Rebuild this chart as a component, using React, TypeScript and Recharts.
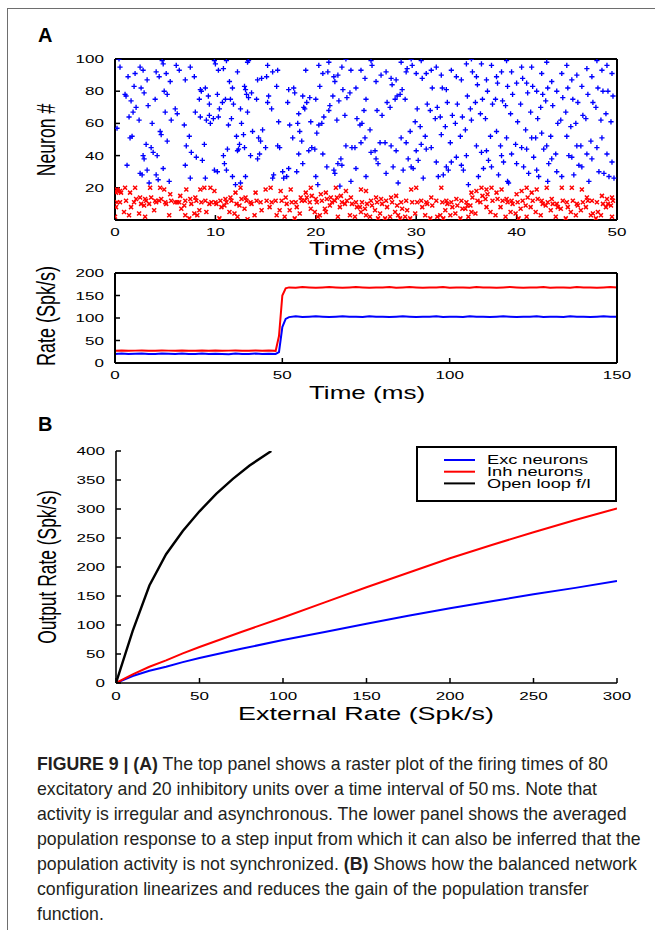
import React from 'react';
import { ScatterChart, Scatter, LineChart, Line, XAxis, YAxis, Legend } from 'recharts';

// ---------- data ----------
const excSpikes: [number, number][] = [
[0.2,57],[0.4,100],[0.5,95],[1.0,78],[1.1,77],[1.3,89],[1.4,64],[1.2,34],[1.6,74],[1.7,52],[1.5,51],[1.9,83],[2.0,91],[1.8,67],[2.1,70],
[2.5,95],[2.6,82],[2.4,62],[2.5,29],[2.7,28],[2.8,93],[2.9,79],[2.8,40],[2.9,38],[3.2,87],[3.3,71],[3.1,47],[3.2,31],[3.4,23],[3.7,60],[3.6,45],[3.8,42],
[4.1,92],[4.0,75],[4.2,40],[4.1,28],[4.3,25],[4.4,89],[4.5,55],[4.7,99],[4.8,97],[4.9,80],[4.6,53],[4.8,32],[5.1,91],[5.2,78],[5.0,67],[5.2,49],[5.5,86],[5.6,62],[5.4,24],
[6.1,96],[6.2,66],[6.0,69],[6.4,93],[7.0,87],[6.9,59],[7.1,46],[7.0,34],[7.5,95],[7.4,52],[7.6,42],[7.5,26],[8.0,67],[8.1,39],[7.9,89],
[8.5,81],[8.6,80],[8.4,75],[8.5,64],[8.7,37],[9.0,82],[9.1,62],[8.9,47],[9.0,26],[9.4,65],[9.5,60],[9.3,77],[9.4,72],[9.9,99],[10.0,97],[9.8,63],[9.9,31],
[10.3,93],[10.2,78],[10.4,69],[10.3,64],[10.2,30],[10.8,94],[10.7,73],[10.9,35],[10.8,40],[11.1,99],[11.0,75],[11.2,44],[11.1,31],[11.4,86],[11.5,75],[11.3,59],[11.7,82],[11.8,72],[11.6,63],[11.7,27],
[12.2,92],[12.1,52],[12.3,44],[12.2,43],[12.0,22],[12.5,69],[12.6,60],[12.4,47],[12.5,23],[12.9,83],[13.0,81],[12.8,53],[12.9,45],[13.0,27],[13.2,98],[13.3,99],[13.1,78],[13.3,76],[13.2,67],[13.6,79],[13.7,55],[13.5,40],
[14.2,87],[14.1,75],[14.3,51],[14.2,38],[14.4,41],[14.6,88],[14.7,56],[14.5,49],[15.2,96],[15.1,89],[15.3,77],[15.2,73],[15.0,45],[15.7,92],[15.6,69],[15.8,28],[15.7,26],
[16.2,93],[16.1,83],[16.3,61],[16.2,46],[16.4,45],[16.7,30],[16.8,26],[17.3,81],[17.2,73],[17.4,59],[17.3,32],[17.1,27],[17.8,82],[17.9,79],[17.7,51],
[18.3,66],[18.2,60],[18.4,55],[18.3,41],[18.1,30],[18.7,77],[18.8,70],[18.6,49],[18.7,35],[19.0,93],[19.1,73],[18.9,69],[19.4,76],[19.5,61],[19.3,43],[19.6,45],
[20.0,75],[20.1,54],[19.9,44],[20.0,27],[20.2,22],[20.3,96],[20.4,83],[20.3,59],[20.7,91],[20.8,64],[20.6,60],[20.7,41],[21.3,98],[21.2,92],[21.4,71],[21.3,68],[21.1,33],[21.8,89],[21.9,86],[21.7,77],[21.8,31],[21.9,29],
[22.2,90],[22.3,74],[22.1,62],[22.2,35],[22.4,21],[22.6,95],[22.7,81],[22.5,38],[22.6,34],[23.0,100],[23.1,76],[22.9,65],[23.0,46],[23.5,93],[23.4,79],[23.6,45],[23.5,24],
[24.0,82],[24.1,63],[23.9,45],[24.0,32],[24.5,93],[24.4,59],[24.6,60],[24.5,48],[24.9,88],[25.0,75],[24.8,68],[24.9,51],[25.0,27],[25.5,99],[25.6,96],[25.4,56],[25.5,42],
[26.0,86],[26.1,68],[25.9,43],[26.0,38],[26.2,35],[26.5,90],[26.6,65],[26.4,48],[27.0,92],[27.1,73],[26.9,48],[27.0,29],[27.5,88],[27.6,84],[27.4,70],[27.5,46],[27.7,33],
[28.0,87],[28.1,77],[27.9,75],[28.0,43],[28.2,23],[28.5,98],[28.6,81],[28.4,78],[28.5,51],[28.7,31],[29.0,92],[29.1,94],[28.9,75],[29.0,48],[29.2,38],[29.5,100],[29.6,96],[29.4,55],[29.5,33],[29.7,32],
[30.0,91],[30.1,69],[29.9,61],[30.0,43],[30.2,37],[30.5,99],[30.6,88],[30.4,58],[30.5,47],[30.7,26],[31.0,91],[31.1,72],[30.9,52],[31.0,44],[31.5,93],[31.6,82],[31.4,68],[31.5,45],
[32.0,95],[32.1,70],[31.9,63],[32.0,36],[32.2,27],[32.5,90],[32.6,82],[32.4,64],[32.5,53],[32.7,28],[33.0,81],[33.1,73],[32.9,58],[33.0,33],[33.2,31],[33.5,93],[33.6,65],[33.4,48],[33.5,36],
[34.0,89],[34.1,72],[33.9,60],[34.0,39],[34.5,87],[34.6,64],[34.4,52],[34.5,34],[34.7,31],[35.0,97],[35.1,77],[34.9,56],[35.0,40],[35.2,22],[35.5,100],[35.6,92],[35.4,69],[35.5,62],
[36.0,89],[36.1,84],[35.9,73],[36.0,46],[36.2,27],[36.5,97],[36.6,75],[36.4,66],[36.5,42],[36.7,32],[37.0,87],[37.1,80],[36.9,63],[37.0,43],[37.2,37],[37.5,96],[37.6,72],[37.4,52],[37.5,33],
[38.0,89],[38.1,85],[37.9,75],[38.0,55],[38.2,28],[38.5,92],[38.6,74],[38.4,46],[38.5,40],[38.7,36],[39.0,99],[39.1,83],[38.9,71],[39.0,51],[39.2,23],[39.1,24],[39.5,92],[39.6,78],[39.4,66],[39.5,41],
[40.0,85],[40.1,61],[39.9,47],[40.0,35],[40.5,95],[40.6,88],[40.4,72],[40.5,45],[40.7,33],[41.0,85],[41.1,79],[40.9,56],[41.0,44],[41.2,29],[41.5,95],[41.6,83],[41.4,67],[41.5,51],[41.7,39],
[42.0,80],[42.1,63],[41.9,51],[42.0,31],[42.2,27],[42.5,91],[42.6,78],[42.4,70],[42.5,54],[42.7,44],[43.0,98],[43.1,82],[42.9,74],[43.0,46],[43.2,35],[43.1,24],[43.5,86],[43.6,71],[43.4,52],[43.5,38],
[44.0,80],[44.1,60],[43.9,41],[44.0,30],[44.5,91],[44.6,76],[44.4,62],[44.5,27],[45.0,96],[45.1,82],[44.9,67],[45.0,52],[45.2,40],[45.5,87],[45.6,75],[45.4,58],[45.5,39],[45.7,28],
[46.0,90],[46.1,73],[45.9,60],[46.0,46],[46.2,34],[46.5,83],[46.6,65],[46.4,46],[46.5,33],[47.0,94],[47.1,78],[46.9,63],[47.0,41],[47.2,24],[47.5,89],[47.6,73],[47.4,49],[47.5,38],
[48.0,99],[48.1,82],[47.9,70],[48.0,45],[48.2,30],[48.5,93],[48.6,80],[48.4,62],[48.5,51],[48.7,29],[49.0,96],[49.1,80],[48.9,66],[49.0,41],[49.2,27],[49.5,91],[49.6,77],[49.4,61],[49.5,36],[49.7,26],
];

const inhSpikes: [number, number][] = [
[0.0,2],[0.1,8],[0.2,11],[0.1,17],[0.3,18],[0.2,19],[0.5,18],[0.6,17],[0.5,11],[1.0,20],[1.1,12],[0.9,5],[1.5,17],[1.6,8],[1.4,3],[2.0,20],[2.1,13],[1.9,11],[2.5,14],[2.6,10],[2.4,4],
[3.0,13],[3.1,12],[2.9,9],[3.0,2],[3.5,20],[3.6,14],[3.4,10],[4.0,12],[4.1,11],[3.9,6],[4.5,20],[4.6,13],[4.4,12],[5.0,11],[5.1,10],[4.9,19],[5.5,16],[5.6,12],[5.4,3],
[6.0,11],[6.2,11],[6.5,15],[6.6,7],[6.4,11],[7.0,12],[7.1,19],[6.9,9],[7.0,3],[7.5,13],[7.6,10],[7.4,1],[8.0,14],[8.1,12],[7.9,4],[8.2,3],[8.5,19],[8.6,11],[8.4,6],[9.0,12],[9.1,5],[8.9,20],[9.5,20],[9.6,11],[9.4,10],
[10.0,11],[10.1,10],[9.9,18],[10.5,12],[10.6,8],[10.4,1],[11.0,13],[11.1,11],[10.9,9],[11.5,14],[11.6,12],[11.4,5],[12.0,17],[12.1,10],[11.9,4],[12.2,2],[12.5,20],[12.6,13],[12.4,9],
[13.0,14],[13.1,12],[12.9,7],[13.2,0.5],[13.5,11],[13.6,10],[14.0,17],[14.1,12],[13.9,3],[14.5,11],[14.6,6],[15.0,19],[15.1,12],[15.5,20],[15.6,11],[15.4,8],[16.0,12],[16.1,3],[16.5,18],[16.6,12],[16.4,6],
[17.0,14],[17.1,10],[16.9,2],[17.5,19],[17.6,11],[17.4,6],[18.0,11],[18.1,8],[17.9,1],[18.5,14],[18.6,12],[18.4,4],[19.0,17],[19.1,14],[18.9,12],[19.5,20],[19.6,15],[19.4,11],[19.5,7],
[20.0,13],[20.1,11],[19.9,5],[20.2,2],[20.5,16],[20.6,12],[20.4,3],[21.0,17],[21.1,13],[20.9,7],[21.0,5],[21.5,14],[21.6,11],[21.4,9],[22.0,20],[22.1,14],[21.9,12],[22.2,2],[22.5,15],[22.6,11],[22.4,8],
[23.0,18],[23.1,12],[22.9,10],[23.5,14],[23.6,10],[23.4,3],[24.0,11],[24.1,8],[23.9,2],[24.5,19],[24.6,11],[24.4,8],[24.5,5],[25.0,18],[25.1,10],[24.9,7],[25.0,3],[25.5,12],[25.6,9],[25.4,2],
[26.0,14],[26.1,11],[25.9,6],[26.2,1],[26.5,13],[26.6,10],[26.4,4],[27.0,12],[27.1,8],[26.9,1],[27.5,14],[27.6,11],[27.4,2],[28.0,15],[28.1,9],[27.9,5],[28.2,3],[28.5,11],[28.6,7],[28.4,1],[29.0,12],[29.1,6],[28.9,2],[29.5,19],[29.6,11],[29.4,1],
[30.0,20],[30.1,11],[29.9,4],[30.5,12],[30.6,8],[31.0,11],[31.1,10],[30.9,3],[31.5,14],[31.6,9],[31.4,1],[32.0,12],[32.1,2],[32.5,20],[32.6,11],[32.4,3],[32.7,1],[33.0,12],[33.1,10],[32.9,6],[33.5,11],[33.6,8],[33.4,3],
[34.0,13],[34.1,9],[33.9,4],[34.5,12],[34.6,7],[34.4,1],[35.0,11],[35.1,9],[34.9,7],[35.2,2],[35.5,17],[35.6,14],[35.4,9],[35.5,5],[36.0,18],[36.1,12],[35.9,4],[36.5,20],[36.6,15],[36.4,11],
[37.0,19],[37.1,16],[36.9,13],[37.0,8],[37.5,20],[37.6,12],[37.4,5],[38.0,17],[38.1,13],[37.9,3],[38.5,19],[38.6,12],[38.4,8],[39.0,13],[39.1,11],[38.9,2],[39.5,12],[39.6,10],[39.4,5],
[40.0,16],[40.1,11],[39.9,4],[40.2,1],[40.5,18],[40.6,12],[40.4,7],[41.0,20],[41.1,14],[40.9,9],[41.0,2],[41.5,17],[41.6,12],[41.4,8],[42.0,19],[42.1,13],[41.9,5],[42.5,12],[42.6,10],[42.4,3],
[43.0,20],[43.1,11],[42.9,9],[43.5,13],[43.6,10],[43.4,6],[44.0,10],[44.1,8],[43.9,2],[44.5,20],[44.6,12],[44.4,7],[45.0,11],[45.1,8],[44.9,1],[45.5,20],[45.6,12],[45.4,5],[46.0,10],[46.1,9],[45.9,3],
[46.5,19],[46.6,11],[46.4,6],[47.0,14],[47.1,12],[46.9,8],[47.5,12],[47.6,4],[47.4,3],[48.0,11],[48.1,5],[47.9,1],[48.5,15],[48.6,10],[48.4,3],[49.0,13],[49.1,10],[48.9,8],[49.5,14],[49.6,12],[49.4,9],[49.5,2],
];

const rasterTimeTicks = [0, 10, 20, 30, 40, 50];
const neuronTicks = [20, 40, 60, 80, 100];

const rateTime = [
  0,2,4,6,8,10,12,14,16,18,20,22,24,26,28,30,32,34,36,38,40,42,44,46,48,
  49,50,51,
  52,54,56,58,60,62,64,66,68,70,72,74,76,78,80,82,84,86,88,90,92,94,96,98,100,
  102,104,106,108,110,112,114,116,118,120,122,124,126,128,130,132,134,136,138,140,142,144,146,148,150,
];
const excRate = [
  20,21,20,20.5,21,20,20,21,20.5,20,21,20,20,21,20,20.5,20,19.5,21,20,20,21,20,20.5,20,
  24,80,98,
  102,104,102,103,104,103,102,103,104,103,103,102,104,103,103,102,103,104,103,102,103,103,104,102,103,
  103,102,104,103,103,102,103,104,103,102,103,103,104,102,103,103,102,104,103,103,102,103,104,103,103,
];
const inhRate = [
  27,28,27,27.5,28,27,27,28,27.5,27,28,27,27,28,27,28,27,27.5,28,27,27,28,27,27.5,27,
  60,150,166,
  168,167,169,168,167,168,169,168,167,168,169,168,167,168,168,169,167,168,169,168,167,168,168,169,167,
  168,168,167,169,168,168,167,168,169,168,167,168,168,169,167,168,168,167,169,168,168,167,168,169,168,
];
const rateTimeTicks = [0, 50, 100, 150];
const rateTicks = [0, 50, 100, 150, 200];

const extInput = [0, 10, 20, 30, 40, 50, 75, 100, 125, 150, 175, 200, 225, 250, 275, 300];
const excOutput = [0, 12, 21, 28, 36, 43, 59, 74, 88, 102, 116, 129, 141, 153, 164, 176];
const inhOutput = [0, 15, 28, 39, 51, 62, 88, 113, 139, 165, 190, 215, 238, 260, 281, 301];
const openLoopInput = [0, 10, 20, 30, 40, 50, 60, 70, 80, 93];
const openLoopOutput = [0, 90, 168, 222, 262, 296, 326, 352, 375, 400];
const extTicks = [0, 50, 100, 150, 200, 250, 300];
const outTicks = [0, 50, 100, 150, 200, 250, 300, 350, 400];
const seriesNames = ['Exc neurons', 'Inh neurons', 'Open loop f/I'];

const captionLines: [string, boolean][][] = [
  [['FIGURE 9 | (A)', true], [' The top panel shows a raster plot of the firing times of 80', false]],
  [['excitatory and 20 inhibitory units over a time interval of 50\u2009ms. Note that', false]],
  [['activity is irregular and asynchronous. The lower panel shows the averaged', false]],
  [['population response to a step input from which it can also be inferred that the', false]],
  [['population activity is not synchronized. ', false], ['(B)', true], [' Shows how the balanced network', false]],
  [['configuration linearizes and reduces the gain of the population transfer', false]],
  [['function.', false]],
];

// ---------- styling helpers ----------
const FONT = '"Liberation Sans", Arial, Helvetica, sans-serif';
const SX = 1.48;
const TICK = 11.5;
const BLUE = '#0000ff';
const RED = '#ff0000';

function SText(p: { x: number; y: number; children: any; size?: number; anchor?: string; rotate?: boolean; sx?: number }) {
  const sx = p.sx ?? SX;
  const t = `translate(${p.x},${p.y}) scale(${sx},1)` + (p.rotate ? ' rotate(-90)' : '');
  return (
    <text transform={t} x={0} y={0} textAnchor={(p.anchor as any) ?? 'middle'} fontSize={p.size ?? TICK}
      fontFamily={FONT} fill="#000" dominantBaseline={p.rotate ? 'central' : undefined}>
      {p.children}
    </text>
  );
}

const bottomTick = (dy: number) => (props: any) => (
  <SText x={props.x} y={props.y + dy}>{String(props.payload.value)}</SText>
);
const leftTick = (dx: number) => (props: any) => (
  <SText x={props.x + dx} y={props.y + 4} anchor="end">{String(props.payload.value)}</SText>
);

const PlusShape = (p: any) => (
  <path d={`M${p.cx - 2.6},${p.cy}h5.2M${p.cx},${p.cy - 2.6}v5.2`} stroke={BLUE} strokeWidth={1.35} fill="none" />
);
const CrossShape = (p: any) => (
  <path d={`M${p.cx - 2},${p.cy - 2}l4,4M${p.cx - 2},${p.cy + 2}l4,-4`} stroke={RED} strokeWidth={1.5} fill="none" />
);

const FRAME = { stroke: '#000', strokeWidth: 2 };
const TL = { stroke: '#000', strokeWidth: 1.5 };

function LegendBox(props: any) {
  const payload = props.payload || [];
  return (
    <svg width={201} height={56} style={{ display: 'block' }}>
      <rect x={1} y={1} width={199} height={54} fill="#fff" stroke="#000" strokeWidth={2} />
      {payload.map((e: any, i: number) => (
        <g key={i}>
          <line x1={28} x2={59} y1={14 + i * 11.7} y2={14 + i * 11.7} stroke={e.color} strokeWidth={2} />
          <SText x={71} y={14 + i * 11.7 + 4.3} anchor="start" size={12.3}>{e.value}</SText>
        </g>
      ))}
    </svg>
  );
}

export default function App() {
  const exc = excSpikes.map(([t, n]) => ({ t, n }));
  const inh = inhSpikes.map(([t, n]) => ({ t, n }));
  const rateData = rateTime.map((time, i) => ({ time, exc: excRate[i], inh: inhRate[i] }));
  const excCurve = extInput.map((x, i) => ({ x, y: excOutput[i] }));
  const inhCurve = extInput.map((x, i) => ({ x, y: inhOutput[i] }));
  const openCurve = openLoopInput.map((x, i) => ({ x, y: openLoopOutput[i] }));

  return (
    <div style={{ position: 'absolute', left: 0, top: 0, width: 655, height: 930, background: '#fff', overflow: 'hidden' }}>
      <div style={{ position: 'absolute', left: 7, top: 8, width: 700, height: 1000, borderLeft: '1.5px solid #6e6e6e', borderTop: '1.5px solid #6e6e6e' }} />

      {/* Raster */}
      <div style={{ position: 'absolute', left: 0, top: 0 }}>
        <ScatterChart width={655} height={260} margin={{ top: 58, right: 37, bottom: 39, left: 114 }}>
          <XAxis xAxisId="b" type="number" dataKey="t" domain={[0, 50]} ticks={rasterTimeTicks} interval={0} height={1}
            tickSize={-5} tickMargin={0} axisLine={FRAME} tickLine={TL} tick={bottomTick(20.5)} allowDataOverflow />
          <XAxis xAxisId="t" orientation="top" type="number" dataKey="t" domain={[0, 50]} ticks={rasterTimeTicks} interval={0} height={1}
            tickSize={-5} axisLine={FRAME} tickLine={TL} tick={false} allowDataOverflow />
          <YAxis yAxisId="l" type="number" dataKey="n" domain={[0, 100]} ticks={neuronTicks} interval={0} width={1}
            tickSize={-5} tickMargin={0} axisLine={FRAME} tickLine={TL} tick={leftTick(-16)} allowDataOverflow />
          <YAxis yAxisId="r" orientation="right" type="number" dataKey="n" domain={[0, 100]} ticks={neuronTicks} interval={0} width={1}
            tickSize={-5} axisLine={FRAME} tickLine={TL} tick={false} allowDataOverflow />
          <Scatter xAxisId="b" yAxisId="l" data={exc} shape={PlusShape} isAnimationActive={false} />
          <Scatter xAxisId="b" yAxisId="l" data={inh} shape={CrossShape} isAnimationActive={false} />
        </ScatterChart>
      </div>

      {/* Rate */}
      <div style={{ position: 'absolute', left: 0, top: 260 }}>
        <LineChart width={655} height={140} data={rateData} margin={{ top: 12, right: 37, bottom: 36, left: 114 }}>
          <XAxis xAxisId="b" type="number" dataKey="time" domain={[0, 150]} ticks={rateTimeTicks} interval={0} height={1}
            tickSize={-5} tickMargin={0} axisLine={FRAME} tickLine={TL} tick={bottomTick(20.5)} allowDataOverflow />
          <XAxis xAxisId="t" orientation="top" type="number" dataKey="time" domain={[0, 150]} ticks={rateTimeTicks} interval={0} height={1}
            tickSize={-5} axisLine={FRAME} tickLine={TL} tick={false} allowDataOverflow />
          <YAxis yAxisId="l" type="number" domain={[0, 200]} ticks={rateTicks} interval={0} width={1}
            tickSize={-5} tickMargin={0} axisLine={FRAME} tickLine={TL} tick={leftTick(-16)} allowDataOverflow />
          <YAxis yAxisId="r" orientation="right" type="number" domain={[0, 200]} ticks={rateTicks} interval={0} width={1}
            tickSize={-5} axisLine={FRAME} tickLine={TL} tick={false} allowDataOverflow />
          <Line xAxisId="b" yAxisId="l" dataKey="exc" stroke={BLUE} strokeWidth={2} dot={false} isAnimationActive={false} />
          <Line xAxisId="b" yAxisId="l" dataKey="inh" stroke={RED} strokeWidth={2} dot={false} isAnimationActive={false} />
        </LineChart>
      </div>

      {/* Panel B */}
      <div style={{ position: 'absolute', left: 0, top: 400 }}>
        <LineChart width={655} height={330} margin={{ top: 51, right: 38, bottom: 46, left: 115 }}>
          <XAxis type="number" dataKey="x" domain={[0, 300]} ticks={extTicks} interval={0} height={1}
            tickSize={-5} tickMargin={0} axisLine={{ stroke: '#000', strokeWidth: 1.6 }} tickLine={TL} tick={bottomTick(21.5)} allowDataOverflow />
          <YAxis type="number" domain={[0, 400]} ticks={outTicks} interval={0} width={1}
            tickSize={-5} tickMargin={0} axisLine={{ stroke: '#000', strokeWidth: 1.6 }} tickLine={TL} tick={leftTick(-16)} allowDataOverflow />
          <Legend layout="vertical" align="center" verticalAlign="middle" content={LegendBox}
            wrapperStyle={{ left: 416, top: 46, width: 201, height: 56 }} />
          <Line data={excCurve} dataKey="y" name={seriesNames[0]} stroke={BLUE} strokeWidth={2} dot={false} isAnimationActive={false} />
          <Line data={inhCurve} dataKey="y" name={seriesNames[1]} stroke={RED} strokeWidth={2} dot={false} isAnimationActive={false} />
          <Line data={openCurve} dataKey="y" name={seriesNames[2]} stroke="#000" strokeWidth={2.4} dot={false} isAnimationActive={false} />
        </LineChart>
      </div>

      {/* titles */}
      <svg width={655} height={930} style={{ position: 'absolute', left: 0, top: 0, pointerEvents: 'none' }}>
        <text x={38} y={42} fontFamily={FONT} fontWeight="bold" fontSize={20} fill="#000">A</text>
        <text x={38} y={431} fontFamily={FONT} fontWeight="bold" fontSize={20} fill="#000">B</text>
        <SText x={46} y={140} size={17.6} rotate>Neuron #</SText>
        <SText x={367} y={254.5} size={17.6}>Time (ms)</SText>
        <SText x={46} y={316} size={18} rotate>Rate (Spk/s)</SText>
        <SText x={367} y={398.5} size={17.6}>Time (ms)</SText>
        <SText x={47} y={567} size={17.4} rotate>Output Rate (Spk/s)</SText>
        <SText x={366} y={720} size={18.2}>External Rate (Spk/s)</SText>
      </svg>

      {/* caption */}
      <div style={{ position: 'absolute', left: 37, top: 752, fontFamily: FONT, fontSize: 17.7, lineHeight: '25px', color: '#231f20' }}>
        {captionLines.map((line, i) => (
          <div key={i} style={{ whiteSpace: 'nowrap' }}>
            {line.map(([txt, bold], j) => (
              <span key={j} style={{ fontWeight: bold ? 'bold' : 'normal' }}>{txt}</span>
            ))}
          </div>
        ))}
      </div>
    </div>
  );
}
